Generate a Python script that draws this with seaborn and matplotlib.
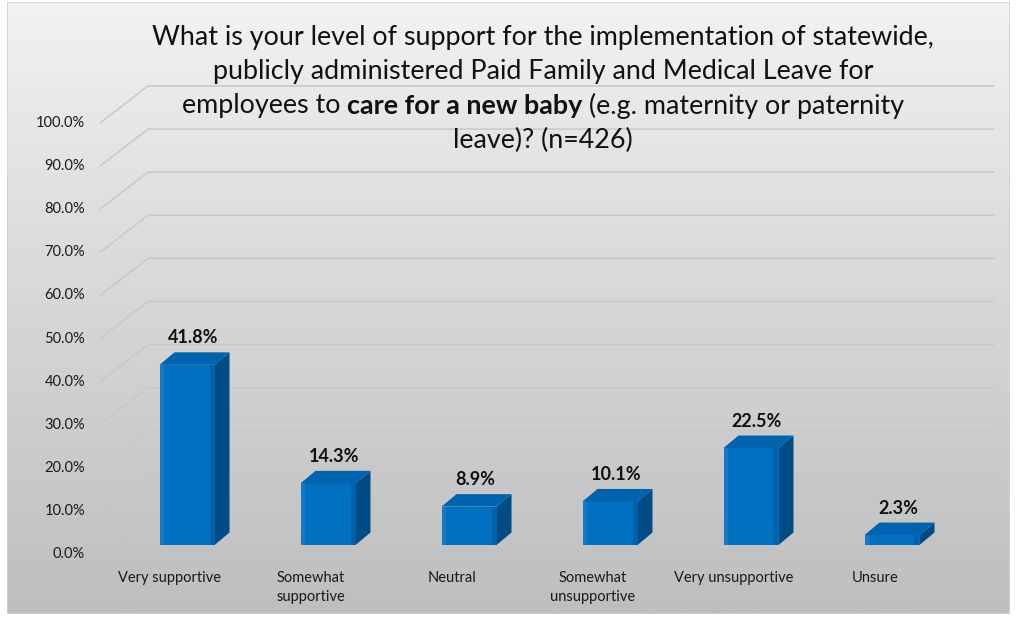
import numpy as np
import pandas as pd
import matplotlib
matplotlib.use('Agg')
import matplotlib.pyplot as plt
import seaborn as sns
from matplotlib.patches import Polygon

# data
categories = ['Very supportive', 'Somewhat\nsupportive', 'Neutral',
              'Somewhat\nunsupportive', 'Very unsupportive', 'Unsure']
values = [41.8, 14.3, 8.9, 10.1, 22.5, 2.3]
value_labels = ['41.8%', '14.3%', '8.9%', '10.1%', '22.5%', '2.3%']
ticks = [0, 10, 20, 30, 40, 50, 60, 70, 80, 90, 100]
tick_labels = ['0.0%', '10.0%', '20.0%', '30.0%', '40.0%', '50.0%',
               '60.0%', '70.0%', '80.0%', '90.0%', '100.0%']
title_lines = ['What is your level of support for the implementation of statewide,',
               'publicly administered Paid Family and Medical Leave for',
               ('employees to ', 'care for a new baby', ' (e.g. maternity or paternity'),
               'leave)? (n=426)']

sns.set_theme(style='white')
plt.rcParams['font.family'] = ['Lato', 'DejaVu Sans']

W, H = 1019, 619
fig = plt.figure(figsize=(W / 100, H / 100), dpi=100)
fig.patch.set_facecolor('white')

# gradient background of the chart area
bg = fig.add_axes([7 / W, (H - 614) / H, (1010 - 7) / W, (614 - 2) / H])
grad = np.linspace(0, 1, 256)[:, None] ** 0.9
bg.imshow(grad, aspect='auto', cmap=matplotlib.colors.LinearSegmentedColormap.from_list(
    'bg', ['#f3f3f3', '#bebebe']), extent=(0, 1, 0, 1), origin='upper')
bg.set_axis_off()
bg.add_patch(plt.Rectangle((0, 0), 1, 1, fill=False, ec='#d0d0d0', lw=1.2,
                           transform=bg.transAxes))

# main axes: 141 px per category, 4.31 px per percent, 0 at y=545px
ax = fig.add_axes([100 / W, (H - 560) / H, 900 / W, 480 / H])
ax.patch.set_alpha(0)

px_x = 1 / 141.0
px_y = 1 / 4.31
x_front = -87 * px_x
x_back = (148 - 187) * px_x
x_right = (994 - 187) * px_x
grid_c = '#c8c8c8'
for t, lab in zip(ticks, tick_labels):
    yf = t - 9 * px_y
    yb = t + 28 * px_y
    ax.plot([x_front, x_back, x_right], [yf, yb, yb], color=grid_c, lw=1.1, zorder=1)
    ax.text(x_front - 15 * px_x, yf, lab, ha='right',
            va='center', fontsize=10.5, color='#1a1a1a')

df = pd.DataFrame({'category': categories, 'value': values})
bw = 55 * px_x
sns.barplot(data=df, x='category', y='value', color='#0070c0', width=bw,
            saturation=1, linewidth=0, edgecolor='none', ax=ax, zorder=3)
ax.set_xlim(-87 / 141, 813 / 141)
ax.set_ylim(-15 / 4.31, 465 / 4.31)
ax.set_axis_off()

dx = 15 * px_x
dy = 12.5 * px_y
for i, v in enumerate(values):
    x0 = i - bw / 2
    x1 = i + bw / 2
    # side face
    ax.add_patch(Polygon([(x1, 0), (x1 + dx, dy), (x1 + dx, v + dy), (x1, v)],
                         closed=True, fc='#004d85', ec='none', zorder=2))
    # top face
    ax.add_patch(Polygon([(x0, v), (x0 + dx, v + dy), (x1 + dx, v + dy), (x1, v)],
                         closed=True, fc='#0063ae', ec='none', zorder=4))
    # bevel shading on the front face
    ax.add_patch(plt.Rectangle((x0, 0), 4 * px_x, v, fc='#1479c6', ec='none', zorder=4))
    ax.add_patch(plt.Rectangle((x1 - 5 * px_x, 0), 5 * px_x, v, fc='#0062aa',
                               ec='none', zorder=4))
    ax.text(i + 6 * px_x, v + dy + 6 * px_y, value_labels[i], ha='center', va='bottom',
            fontsize=13, fontweight='bold', color='#111111', zorder=5)
    ax.text(i - 17 * px_x, -26 * px_y, categories[i], ha='center', va='top',
            fontsize=10.5, color='#1a1a1a', linespacing=1.5)

# title
title_fs = 19.4
cx = 543 / W
line_y = [38, 72, 106, 140]
r = fig.canvas.get_renderer()
for k, line in enumerate(title_lines):
    y = 1 - line_y[k] / H
    if isinstance(line, tuple):
        pieces = []
        for j, part in enumerate(line):
            t = fig.text(0, y, part, fontsize=title_fs, va='center', ha='left',
                         fontweight='bold' if j == 1 else 'normal', color='#111111')
            pieces.append(t)
        widths = [p.get_window_extent(r).width / W for p in pieces]
        xs = cx - sum(widths) / 2
        for p, wdt in zip(pieces, widths):
            p.set_x(xs)
            xs += wdt
    else:
        fig.text(cx, y, line, fontsize=title_fs, va='center', ha='center', color='#111111')

fig.savefig('out.png', dpi=100)
